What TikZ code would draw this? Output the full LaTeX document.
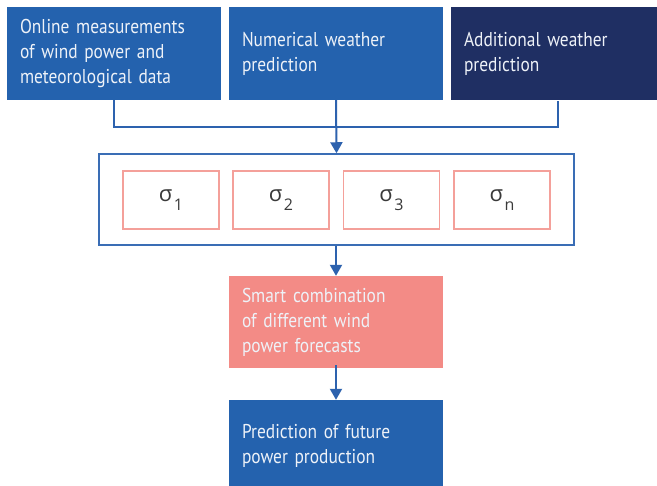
\documentclass[tikz,border=0pt]{standalone}
\usepackage{fontspec}
\setmainfont{PT Sans}[FakeStretch=0.87]
\newfontfamily\greekfont{Open Sans}
\usetikzlibrary{arrows.meta}
\definecolor{fhblue}{HTML}{2462AE}
\definecolor{fhnavy}{HTML}{1F2F63}
\definecolor{fhpink}{HTML}{F38B86}
\definecolor{sigborder}{HTML}{F4A09A}
\definecolor{bigborder}{HTML}{3A6DB5}
\definecolor{linecol}{HTML}{2D62AE}
\definecolor{boxtext}{HTML}{EEF2F8}
\definecolor{sigtext}{HTML}{3A3A3A}
\tikzset{
  box/.style={minimum width=214pt, minimum height=93pt, text width=188pt,
    inner xsep=13pt, inner ysep=0pt, align=left, text=boxtext,
    font=\fontsize{20}{25}\selectfont},
  sigbox/.style={draw=sigborder, line width=1.5pt, fill=white,
    minimum width=96pt, minimum height=58pt, inner sep=0pt, text=sigtext},
  conn/.style={draw=linecol, line width=2pt},
  arr/.style={conn, -{Triangle[width=12pt,length=11pt]}}
}
\newcommand{\sig}[1]{{\greekfont\fontsize{22}{22}\selectfont σ\hspace{1.5pt}\raisebox{-9pt}{\fontsize{16}{16}\selectfont #1}}}
\begin{document}
\begin{tikzpicture}[x=1pt,y=-1pt]
\useasboundingbox[fill=white] (0,0) rectangle (657,486);
\node[box, fill=fhblue] (b1) at (114,53.5) {Online measurements\\of wind power and\\meteorological data};
\node[box, fill=fhblue] (b2) at (336,53.5) {Numerical weather\\prediction};
\node[box, fill=fhnavy] (b3) at (558,54) {Additional weather\\prediction};
\coordinate (j) at (336,127);
\draw[conn] (b1.south) |- (j) -| (b3.south);
\node[draw=bigborder, line width=1.5pt, minimum width=475pt, minimum height=91pt, inner sep=0pt] (big) at (336.5,199.5) {};
\draw[arr] (b2.south) -- (big.north);
\node[sigbox] (s1) at (171,200) {\sig{1}};
\node[sigbox] (s2) at (281,200) {\sig{2}};
\node[sigbox] (s3) at (391.5,200) {\sig{3}};
\node[sigbox] (s4) at (502,200) {\sig{n}};
\node[box, fill=fhpink, minimum height=92pt] (comb) at (336,322) {Smart combination\\of different wind\\power forecasts};
\node[box, fill=fhblue, minimum height=92pt] (pred) at (336,446) {Prediction of future\\power production};
\draw[arr] (big.south -| comb.north) -- (comb.north);
\draw[arr] ([yshift=3pt]comb.south) -- (pred.north);
\end{tikzpicture}
\end{document}
